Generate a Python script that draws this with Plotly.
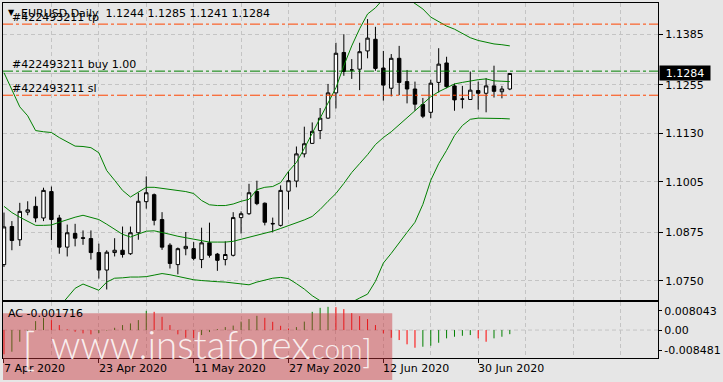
import plotly.graph_objects as go

# ---------------- data ----------------
bar_dates = [
    "2020-04-07", "2020-04-08", "2020-04-09", "2020-04-10", "2020-04-13", "2020-04-14", "2020-04-15",
    "2020-04-16", "2020-04-17", "2020-04-20", "2020-04-21", "2020-04-22", "2020-04-23", "2020-04-24",
    "2020-04-27", "2020-04-28", "2020-04-29", "2020-04-30", "2020-05-01", "2020-05-04", "2020-05-05",
    "2020-05-06", "2020-05-07", "2020-05-08", "2020-05-11", "2020-05-12", "2020-05-13", "2020-05-14",
    "2020-05-15", "2020-05-18", "2020-05-19", "2020-05-20", "2020-05-21", "2020-05-22", "2020-05-25",
    "2020-05-26", "2020-05-27", "2020-05-28", "2020-05-29", "2020-06-01", "2020-06-02", "2020-06-03",
    "2020-06-04", "2020-06-05", "2020-06-08", "2020-06-09", "2020-06-10", "2020-06-11", "2020-06-12",
    "2020-06-15", "2020-06-16", "2020-06-17", "2020-06-18", "2020-06-19", "2020-06-22", "2020-06-23",
    "2020-06-24", "2020-06-25", "2020-06-26", "2020-06-29", "2020-06-30", "2020-07-01", "2020-07-02",
    "2020-07-03", "2020-07-06",
]

opens = [
    1.0792, 1.0890, 1.0856, 1.0927, 1.0942, 1.0912, 1.0980, 1.0912, 1.0837, 1.0872,
    1.0861, 1.0859, 1.0823, 1.0778, 1.0823, 1.0829, 1.0820, 1.0874, 1.0954, 1.0972,
    1.0908, 1.0842, 1.0792, 1.0833, 1.0833, 1.0805, 1.0848, 1.0819, 1.0805, 1.0816,
    1.0913, 1.0923, 1.0980, 1.0950, 1.0898, 1.0893, 1.0981, 1.1007, 1.1077, 1.1104,
    1.1137, 1.1169, 1.1234, 1.1338, 1.1293, 1.1295, 1.1342, 1.1372, 1.1298, 1.1246,
    1.1323, 1.1263, 1.1244, 1.1204, 1.1184, 1.1261, 1.1311, 1.1252, 1.1218, 1.1217,
    1.1240, 1.1233, 1.1252, 1.1237, 1.1244,
]
highs = [
    1.0926, 1.0904, 1.0951, 1.0955, 1.0967, 1.0990, 1.0993, 1.0920, 1.0895, 1.0897,
    1.0880, 1.0880, 1.0846, 1.0829, 1.0860, 1.0890, 1.0890, 1.0977, 1.1019, 1.0975,
    1.0927, 1.0847, 1.0836, 1.0876, 1.0850, 1.0887, 1.0900, 1.0822, 1.0852, 1.0927,
    1.0929, 1.1000, 1.1008, 1.0952, 1.0913, 1.0996, 1.1032, 1.1096, 1.1147, 1.1158,
    1.1195, 1.1257, 1.1363, 1.1385, 1.1321, 1.1363, 1.1424, 1.1404, 1.1342, 1.1334,
    1.1355, 1.1293, 1.1263, 1.1221, 1.1268, 1.1349, 1.1327, 1.1258, 1.1252, 1.1289,
    1.1263, 1.1272, 1.1304, 1.1252, 1.1285,
]
lows = [
    1.0786, 1.0829, 1.0840, 1.0919, 1.0901, 1.0904, 1.0855, 1.0820, 1.0813, 1.0839,
    1.0843, 1.0805, 1.0756, 1.0728, 1.0813, 1.0810, 1.0817, 1.0856, 1.0936, 1.0893,
    1.0830, 1.0782, 1.0767, 1.0816, 1.0803, 1.0783, 1.0810, 1.0776, 1.0790, 1.0813,
    1.0872, 1.0920, 1.0945, 1.0893, 1.0875, 1.0890, 1.0934, 1.0991, 1.1068, 1.1103,
    1.1115, 1.1167, 1.1194, 1.1278, 1.1270, 1.1241, 1.1323, 1.1291, 1.1214, 1.1225,
    1.1228, 1.1207, 1.1188, 1.1169, 1.1169, 1.1235, 1.1246, 1.1188, 1.1194, 1.1216,
    1.1191, 1.1184, 1.1222, 1.1220, 1.1241,
]
closes = [
    1.0889, 1.0854, 1.0929, 1.0933, 1.0912, 1.0983, 1.0908, 1.0837, 1.0874, 1.0860,
    1.0860, 1.0823, 1.0778, 1.0824, 1.0829, 1.0818, 1.0874, 1.0955, 1.0977, 1.0906,
    1.0837, 1.0795, 1.0833, 1.0839, 1.0808, 1.0848, 1.0816, 1.0803, 1.0818, 1.0913,
    1.0923, 1.0977, 1.0949, 1.0901, 1.0897, 1.0983, 1.1008, 1.1077, 1.1103, 1.1135,
    1.1169, 1.1234, 1.1336, 1.1289, 1.1293, 1.1340, 1.1375, 1.1297, 1.1254, 1.1323,
    1.1261, 1.1244, 1.1205, 1.1174, 1.1259, 1.1308, 1.1250, 1.1216, 1.1218, 1.1241,
    1.1233, 1.1252, 1.1238, 1.1244, 1.1284,
]

bb_upper = [
    1.1286, 1.1240, 1.1198, 1.1175, 1.1137, 1.1134, 1.1132, 1.1119, 1.1109, 1.1097,
    1.1096, 1.1093, 1.1080, 1.1034, 1.1009, 1.0983, 1.0966, 1.0978, 1.0991, 1.0991,
    1.0988, 1.0985, 1.0983, 1.0980, 1.0975, 1.0957, 1.0946, 1.0944, 1.0944, 1.0948,
    1.0955, 1.0960, 1.0985, 1.0991, 1.0993, 1.1003, 1.1032, 1.1055, 1.1091, 1.1129,
    1.1168, 1.1206, 1.1247, 1.1304, 1.1355, 1.1399, 1.1437, 1.1453, 1.1476, 1.1486,
    1.1486, 1.1478, 1.1465, 1.1450, 1.1429, 1.1417, 1.1406, 1.1398, 1.1386, 1.1376,
    1.1369, 1.1364, 1.1360, 1.1358, 1.1355,
]
bb_middle = [
    1.0942, 1.0926, 1.0914, 1.0903, 1.0893, 1.0893, 1.0894, 1.0901, 1.0908, 1.0914,
    1.0919, 1.0914, 1.0908, 1.0896, 1.0883, 1.0870, 1.0863, 1.0870, 1.0878, 1.0879,
    1.0875, 1.0870, 1.0865, 1.0861, 1.0857, 1.0853, 1.0850, 1.0850, 1.0850, 1.0852,
    1.0857, 1.0862, 1.0867, 1.0872, 1.0878, 1.0885, 1.0892, 1.0898, 1.0907, 1.0916,
    1.0934, 1.0955, 1.0975, 1.1001, 1.1029, 1.1052, 1.1075, 1.1101, 1.1119, 1.1134,
    1.1152, 1.1170, 1.1188, 1.1204, 1.1224, 1.1237, 1.1247, 1.1257, 1.1261, 1.1265,
    1.1268, 1.1270, 1.1265, 1.1264, 1.1263,
]
bb_lower = [
    1.0598, 1.0613, 1.0629, 1.0631, 1.0649, 1.0652, 1.0657, 1.0683, 1.0708, 1.0731,
    1.0742, 1.0734, 1.0726, 1.0747, 1.0757, 1.0758, 1.0760, 1.0760, 1.0761, 1.0765,
    1.0769, 1.0766, 1.0762, 1.0757, 1.0753, 1.0751, 1.0749, 1.0748, 1.0747, 1.0745,
    1.0742, 1.0740, 1.0747, 1.0752, 1.0757, 1.0759, 1.0756, 1.0743, 1.0729, 1.0712,
    1.0699, 1.0693, 1.0688, 1.0688, 1.0695, 1.0706, 1.0716, 1.0749, 1.0796, 1.0821,
    1.0849, 1.0875, 1.0901, 1.0947, 1.1009, 1.1052, 1.1086, 1.1124, 1.1150, 1.1166,
    1.1169, 1.1169, 1.1169, 1.1168, 1.1167,
]

ac_values = [
    -0.01013, -0.00905, -0.00488, -0.00083, 0.00375, 0.00513, 0.00417, 0.00209, 0.00029, -0.00071,
    -0.00138, -0.00179, -0.00125, -0.00021, 0.00096, 0.00209, 0.00279, 0.00417, 0.00805, 0.00763,
    0.00555, 0.00209, -0.00179, -0.00321, -0.00334, -0.00209, -0.00083, 0.00042, 0.00125, 0.00188,
    0.00354, 0.00459, 0.00596, 0.00513, 0.00346, 0.00179, 0.00063, 0.00125, 0.00354, 0.00763,
    0.00930, 0.00972, 0.00959, 0.00876, 0.00709, 0.00584, 0.00459, 0.00209, -0.00138, -0.00321,
    -0.00417, -0.00596, -0.00738, -0.00696, -0.00655, -0.00530, -0.00346, -0.00279, -0.00238, -0.00209,
    -0.00346, -0.00488, -0.00346, -0.00279, -0.001716,
]

date_tick_index = [0, 12, 24, 36, 48, 60]
date_tick_labels = ["7 Apr 2020", "23 Apr 2020", "11 May 2020", "27 May 2020", "12 Jun 2020", "30 Jun 2020"]
price_ticks = [1.1385, 1.1255, 1.1130, 1.1005, 1.0875, 1.0750]
ac_ticks = [0.008043, 0.0, -0.008481]
ac_tick_text = ["0.008043", "0.00", "-0.008481"]

order_id = "#422493211"
tp_level = 1.1411
buy_level = 1.1290
sl_level = 1.1228
bid_price = 1.1284
header_symbol = "EURUSD,Daily"
header_ohlc = [1.1244, 1.1285, 1.1241, 1.1284]
ac_current = -0.001716

# ---------------- figure ----------------
W, H = 723, 382
ML, MR, MT, MB = 3, 57, 2, 24
PX0, PX1 = ML, W - MR          # 3 .. 666
PY0, PY1 = MT, H - MB          # 2 .. 358


def paper_x(px):
    return (px - PX0) / (PX1 - PX0)


def paper_y(py):
    return (PY1 - py) / (PY1 - PY0)


FONT = "DejaVu Sans"
BG = "#e6e6e6"
GRID = "#c4c4c4"
GREEN = "#008000"
ORANGE = "#ff4500"

n = len(opens)
xs = list(range(n))

fig = go.Figure()

fig.add_trace(go.Candlestick(
    x=xs, open=opens, high=highs, low=lows, close=closes,
    increasing=dict(line=dict(color="black", width=1), fillcolor="white"),
    decreasing=dict(line=dict(color="black", width=1), fillcolor="black"),
    whiskerwidth=0, showlegend=False, hoverinfo="skip",
    xaxis="x", yaxis="y",
))

for band in (bb_upper, bb_middle, bb_lower):
    fig.add_trace(go.Scatter(
        x=xs, y=band, mode="lines", line=dict(color=GREEN, width=1),
        showlegend=False, hoverinfo="skip", xaxis="x", yaxis="y",
    ))

gx, gy, rx, ry = [], [], [], []
for i, v in enumerate(ac_values):
    up = i > 0 and v > ac_values[i - 1]
    if up:
        gx += [i, i, None]
        gy += [0, v, None]
    else:
        rx += [i, i, None]
        ry += [0, v, None]
fig.add_trace(go.Scatter(x=gx, y=gy, mode="lines", line=dict(color="#008000", width=1),
                         showlegend=False, hoverinfo="skip", xaxis="x2", yaxis="y2"))
fig.add_trace(go.Scatter(x=rx, y=ry, mode="lines", line=dict(color="#ff0000", width=1),
                         showlegend=False, hoverinfo="skip", xaxis="x2", yaxis="y2"))

x_range = [(PX0 - 4) / 8.0, (PX1 - 4) / 8.0]
grid_vals = list(range(0, 84, 6))

main_top = 1.14705 - (PY0) * 0.00025667
main_bot = 1.14705 - 300 * 0.00025667
ac_half = 28 * 0.000417

fig.update_layout(
    width=W, height=H,
    margin=dict(l=ML, r=MR, t=MT, b=MB, pad=0),
    paper_bgcolor=BG, plot_bgcolor=BG,
    font=dict(family=FONT, size=11, color="black"),
    showlegend=False,
    boxgap=0.38,
    xaxis=dict(
        domain=[0, 1], anchor="y", range=x_range, rangeslider=dict(visible=False),
        tickmode="array", tickvals=grid_vals, showticklabels=False, ticks="",
        showgrid=True, gridcolor=GRID, griddash="4px,3px", gridwidth=1,
        showline=True, linecolor="black", linewidth=1, mirror=True, zeroline=False,
    ),
    yaxis=dict(
        domain=[paper_y(300), 1], anchor="x", side="right", range=[main_bot, main_top],
        tickmode="array", tickvals=price_ticks, ticktext=[f"{v:.4f}" for v in price_ticks],
        ticks="outside", ticklen=4, tickcolor="black",
        showgrid=True, gridcolor=GRID, griddash="4px,3px", gridwidth=1,
        showline=True, linecolor="black", linewidth=1, mirror=True, zeroline=False,
        tickfont=dict(family=FONT, size=11, color="black"),
    ),
    xaxis2=dict(
        domain=[0, 1], anchor="y2", range=x_range, matches="x",
        tickmode="array", tickvals=date_tick_index, showticklabels=False,
        ticks="outside", ticklen=4, tickcolor="black",
        showgrid=True, gridcolor=GRID, griddash="4px,3px", gridwidth=1,
        minor=dict(tickmode="array", tickvals=grid_vals, showgrid=True, gridcolor=GRID,
                   griddash="4px,3px", gridwidth=1, ticks=""),
        showline=True, linecolor="black", linewidth=1, mirror=True, zeroline=False,
    ),
    yaxis2=dict(
        domain=[0, paper_y(302)], anchor="x2", side="right", range=[-ac_half, ac_half],
        tickmode="array", tickvals=ac_ticks, ticktext=ac_tick_text,
        ticks="outside", ticklen=3, tickcolor="black", showgrid=False,
        showline=True, linecolor="black", linewidth=1, mirror=True, zeroline=False,
        tickfont=dict(family=FONT, size=11, color="black"),
    ),
)

dash_dot = "10px,3px,3px,3px"
shapes = [
    dict(type="line", xref="paper", yref="y", x0=0, x1=1, y0=bid_price, y1=bid_price,
         line=dict(color="#c0c0c0", width=1), layer="between"),
    dict(type="line", xref="paper", yref="y", x0=0, x1=1, y0=tp_level, y1=tp_level,
         line=dict(color=ORANGE, width=1, dash=dash_dot), layer="above"),
    dict(type="line", xref="paper", yref="y", x0=0, x1=1, y0=buy_level, y1=buy_level,
         line=dict(color=GREEN, width=1, dash=dash_dot), layer="above"),
    dict(type="line", xref="paper", yref="y", x0=0, x1=1, y0=sl_level, y1=sl_level,
         line=dict(color=ORANGE, width=1, dash=dash_dot), layer="above"),
    dict(type="line", xref="paper", yref="y2", x0=0, x1=1, y0=0, y1=0,
         line=dict(color=GRID, width=1, dash="4px,3px"), layer="between"),
    # watermark band
    dict(type="rect", xref="paper", yref="paper", x0=paper_x(3), x1=paper_x(397),
         y0=paper_y(380), y1=paper_y(313), line=dict(width=0),
         fillcolor="rgba(201,52,57,0.45)", layer="above"),
]
fig.update_layout(shapes=shapes)

ann = []


def text(x, y, s, size=11, color="black", xanchor="left", yanchor="middle", xref="paper", yref="paper",
         family=FONT, weight=None, **kw):
    f = dict(family=family, size=size, color=color)
    if weight is not None:
        f["weight"] = weight
    ann.append(dict(x=x, y=y, xref=xref, yref=yref, text=s, showarrow=False,
                    xanchor=xanchor, yanchor=yanchor, borderpad=0, font=f, **kw))


# header and order labels
text(paper_x(7), paper_y(11.5), "▼", size=8)
text(paper_x(20.5), paper_y(12.7),
     header_symbol + "  " + " ".join(f"{v:.4f}" for v in header_ohlc))
text(paper_x(11.5), paper_y(16.7), f"{order_id} tp")
text(paper_x(11.5), paper_y(63.3), f"{order_id} buy 1.00")
text(paper_x(11.5), paper_y(87.3), f"{order_id} sl")

# current price box
ann.append(dict(x=paper_x(667), y=bid_price, xref="paper", yref="y", text=f"{bid_price:.4f}",
                showarrow=False, xanchor="left", yanchor="middle", bgcolor="black",
                width=48, height=12, borderpad=1, align="center",
                font=dict(family=FONT, size=11, color="white")))

# indicator label
text(paper_x(7), paper_y(313.5), f"AC {ac_current:.6f}")

# date labels
for idx, lab in zip(date_tick_index, date_tick_labels):
    ann.append(dict(x=idx, y=paper_y(369), xref="x2", yref="paper", text=lab, showarrow=False,
                    xanchor="left", yanchor="middle", xshift=-1, borderpad=0,
                    font=dict(family=FONT, size=11, color="black")))

# watermark text
WM = "rgba(255,255,255,0.85)"
text(paper_x(29), paper_y(347), "[", size=46, color=WM, xanchor="center", family="Lato", weight=300)
text(paper_x(51), paper_y(344), "www.instaforex", size=38.5, color=WM, family="Lato", weight=300)
text(paper_x(308), paper_y(348), ".com", size=28, color=WM, family="Lato", weight=300)
text(paper_x(371), paper_y(350), "]", size=34, color=WM, xanchor="center", family="Lato", weight=300)

fig.update_layout(annotations=ann)

fig.write_html("out.html")
